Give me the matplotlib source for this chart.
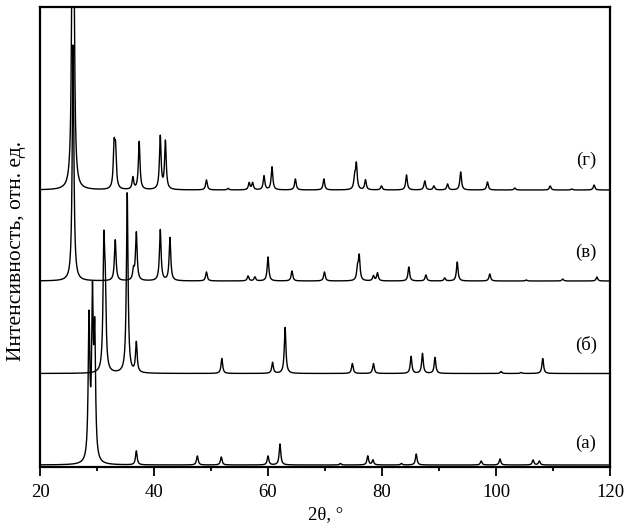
import numpy as np
import matplotlib
matplotlib.use("Agg")
import matplotlib.pyplot as plt
from matplotlib.ticker import MultipleLocator

plt.rcParams['font.family'] = ['Liberation Serif', 'DejaVu Serif']

# Peak positions (2theta, deg) and heights (arb. units)
pos_a = [28.6, 29.2, 29.6, 36.9, 47.6, 51.8, 60.0, 62.1, 72.7, 77.5, 78.4, 83.4, 86.0, 97.4, 100.7, 106.5, 107.6]
h_a   = [140, 155, 120, 14, 9, 8, 9, 21, 1.5, 9, 5, 1.5, 11, 4, 6, 5, 4]

pos_b = [31.2, 31.45, 35.3, 36.9, 51.9, 60.8, 63.0, 74.8, 78.5, 85.1, 87.1, 89.3, 100.9, 104.4, 108.2]
h_b   = [120, 70, 180, 30, 15, 11, 46, 10, 10, 17, 20, 16, 2, 1, 15]

pos_v = [25.8, 33.2, 36.4, 36.9, 41.1, 42.8, 49.2, 56.5, 57.7, 60.0, 64.2, 69.9, 75.7, 76.0, 78.5, 79.2,
         84.7, 87.7, 91.0, 93.2, 98.9, 105.3, 111.7, 117.7]
h_v   = [236, 41, 10, 48, 51, 43, 9, 5, 4, 24, 10, 9, 12, 24, 5, 8, 14, 6, 3, 19, 7, 1, 2, 4]

pos_g = [25.7, 25.95, 33.0, 33.25, 36.3, 37.4, 41.1, 42.0, 49.2, 53.0, 56.7, 57.3, 59.3, 60.7, 64.8, 69.8,
         75.2, 75.5, 77.1, 79.9, 84.3, 87.5, 89.1, 91.5, 93.8, 98.5, 103.3, 109.5, 113.3, 117.2]
h_g   = [300, 150, 40, 36, 12, 48, 53, 48, 10, 1.5, 7, 7, 14, 23, 11, 11, 12, 25, 10, 4, 15, 9, 4, 6, 18, 8,
         2, 4, 1, 5]

offsets = [2, 93.5, 186, 277]
labels = ['(а)', '(б)', '(в)', '(г)']
label_dy = [22, 28.5, 29, 30]

x = np.linspace(20, 120, 8001)

def pattern(pos, h, w=0.34):
    y = np.zeros_like(x)
    for p, a in zip(pos, h):
        y += a / (1 + ((x - p) / (w / 2)) ** 2)
    return y

fig = plt.figure(figsize=(6.32, 5.31), dpi=100)
ax = fig.add_axes([40/632, 64/531, 570/632, 460/531])

for (pos, h), off, lab, dy in zip([(pos_a, h_a), (pos_b, h_b), (pos_v, h_v), (pos_g, h_g)],
                                   offsets, labels, label_dy):
    ax.plot(x, pattern(pos, h) + off, color='black', lw=1.0)
    ax.text(115.8, off + dy, lab, fontsize=13.5, ha='center', va='center')

ax.set_xlim(20, 120)
ax.set_ylim(0, 460)
ax.xaxis.set_major_locator(MultipleLocator(20))
ax.xaxis.set_minor_locator(MultipleLocator(10))
ax.set_yticks([])
ax.tick_params(axis='x', which='major', direction='out', length=6.5, width=1.3, labelsize=13.5, pad=6)
ax.tick_params(axis='x', which='minor', direction='out', length=3, width=1.3)
for s in ax.spines.values():
    s.set_linewidth(1.6)

fig.text(326/632, 1 - 515/531, '2θ, °', fontsize=13.5, ha='center', va='center')
fig.text(17/632, 1 - 251/531, 'Интенсивность, отн. ед.', fontsize=15.5, ha='center', va='center',
         rotation=90)

fig.savefig('out.png', dpi=100)
